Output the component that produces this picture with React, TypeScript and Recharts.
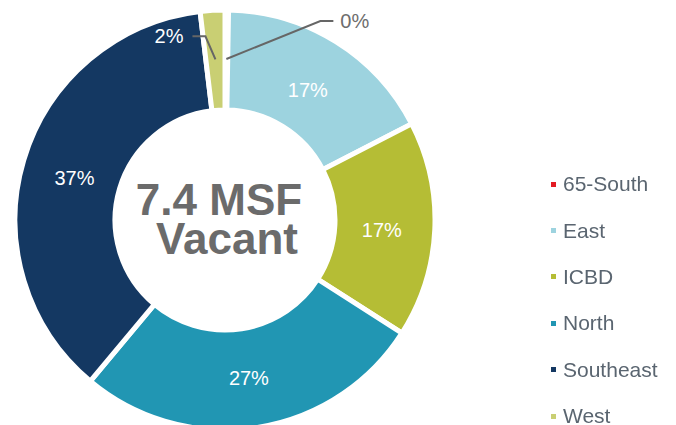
import React from 'react';
import { PieChart, Pie, Cell, Legend, Label } from 'recharts';

const regions = ['65-South', 'East', 'ICBD', 'North', 'Southeast', 'West'];
const vacantMsf = [0.02, 1.27, 1.23, 2.0, 2.74, 0.14];
const colors = ['#e31b23', '#9dd3df', '#b5bd35', '#2196b3', '#143862', '#c9cf73'];
const centerLines = ['7.4 MSF', 'Vacant'];

const data = regions.map((name, i) => ({ name, value: vacantMsf[i] }));

const FONT = '"Liberation Sans", Arial, sans-serif';
const RAD = Math.PI / 180;

const renderLabel = (props: any) => {
  const { cx, cy, midAngle, percent, index } = props;
  const txt = `${Math.round(percent * 100)}%`;
  const cos = Math.cos(-midAngle * RAD);
  const sin = Math.sin(-midAngle * RAD);
  if (index === 0) {
    const sx = cx + 161 * cos;
    const sy = cy + 161 * sin;
    const ex = sx + 94;
    const ey = sy - 38;
    return (
      <g>
        <polyline points={`${sx},${sy} ${ex},${ey} ${ex + 13},${ey}`} fill="none" stroke="#666" strokeWidth={2} />
        <text x={ex + 20} y={ey} dominantBaseline="central" textAnchor="start" fill="#6d6d6d" fontSize={20} fontFamily={FONT}>{txt}</text>
      </g>
    );
  }
  if (index === regions.length - 1) {
    const sx = cx + 161 * cos;
    const sy = cy + 161 * sin;
    const ex = sx - 10;
    const ey = sy - 23;
    return (
      <g>
        <polyline points={`${sx},${sy} ${ex},${ey} ${ex - 13},${ey}`} fill="none" stroke="#666" strokeWidth={2} />
        <text x={ex - 22} y={ey} dominantBaseline="central" textAnchor="end" fill="#ffffff" fontSize={20} fontFamily={FONT}>{txt}</text>
      </g>
    );
  }
  const x = cx + 157 * cos;
  const y = cy + 157 * sin + 3;
  return (
    <text x={x} y={y} dominantBaseline="central" textAnchor="middle" fill="#ffffff" fontSize={20} fontFamily={FONT}>{txt}</text>
  );
};

const renderCenter = (props: any) => {
  const vb = props.viewBox || {};
  const cx = vb.cx ?? 225;
  const cy = vb.cy ?? 220;
  return (
    <g>
      <text x={cx - 6} y={cy - 5} textAnchor="middle" fill="#6b6b6b" fontSize={44} fontWeight="bold" fontFamily={FONT}>{centerLines[0]}</text>
      <text x={cx + 2} y={cy + 34} textAnchor="middle" fill="#6b6b6b" fontSize={44} fontWeight="bold" fontFamily={FONT}>{centerLines[1]}</text>
    </g>
  );
};

const renderLegend = () => (
  <div style={{ fontFamily: FONT }}>
    {regions.map((r, i) => (
      <div key={r} style={{ height: 46.4, display: 'flex', alignItems: 'center' }}>
        <span style={{ display: 'inline-block', width: 5, height: 5, background: colors[i], marginRight: 7 }} />
        <span style={{ fontSize: 21, color: '#5a6570', lineHeight: '24px' }}>{r}</span>
      </div>
    ))}
  </div>
);

export default function App() {
  return (
    <div style={{ position: 'fixed', left: 0, top: 0, width: 676, height: 425, background: '#fff' }}>
      <PieChart width={676} height={425} margin={{ top: 0, right: 0, bottom: 0, left: 0 }}>
        <Pie
          data={data}
          dataKey="value"
          nameKey="name"
          cx={225}
          cy={220}
          innerRadius={110}
          outerRadius={210}
          startAngle={90}
          endAngle={-270}
          stroke="#ffffff"
          strokeWidth={5}
          label={renderLabel}
          labelLine={false}
          isAnimationActive={false}
        >
          {data.map((d, i) => (
            <Cell key={d.name} fill={colors[i]} />
          ))}
          <Label position="center" content={renderCenter} />
        </Pie>
        <Legend
          content={renderLegend}
          wrapperStyle={{ position: 'absolute', left: 551, top: 161, width: 125 }}
        />
      </PieChart>
    </div>
  );
}
